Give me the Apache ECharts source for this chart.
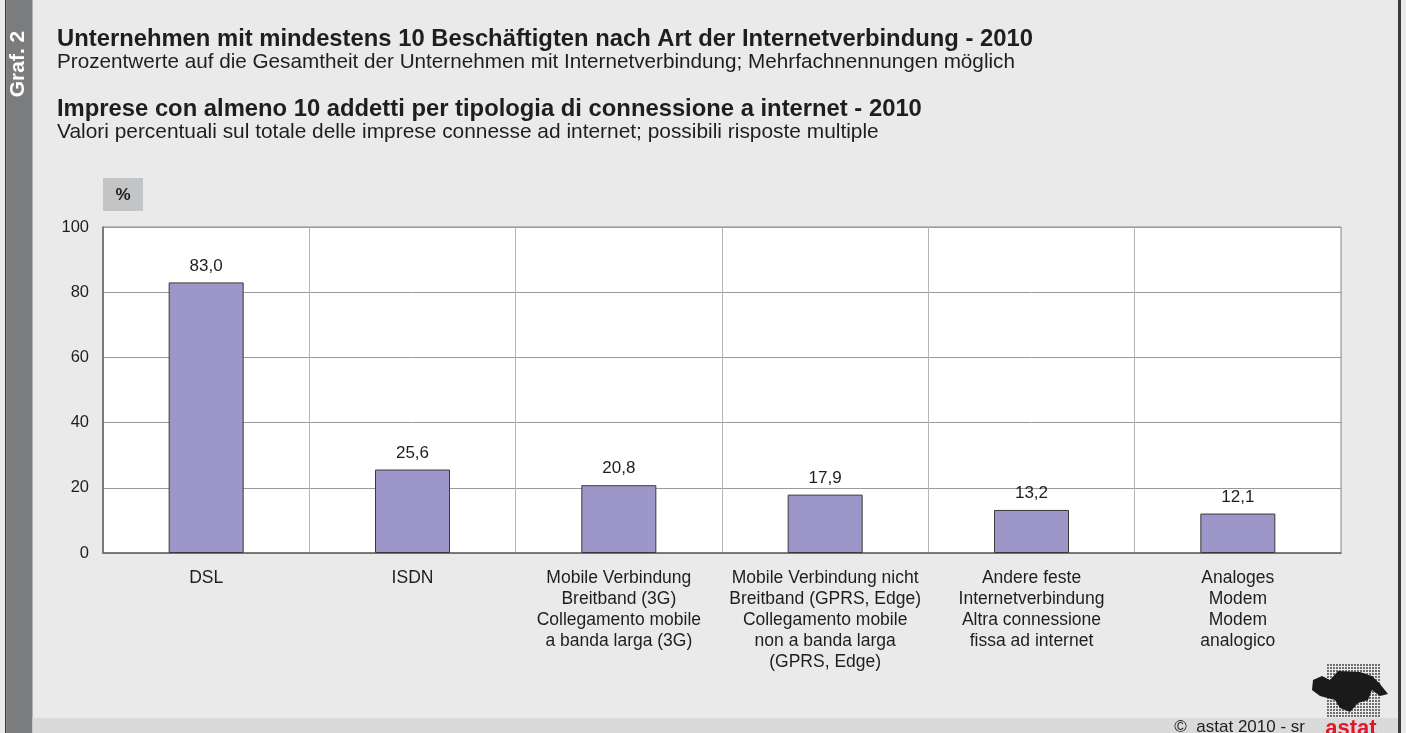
<!DOCTYPE html>
<html>
<head>
<meta charset="utf-8">
<script src="https://cdn.jsdelivr.net/npm/echarts@6/dist/echarts.min.js"></script>
<style>
  html, body { margin: 0; padding: 0; background: #e9eae9; }
  #chart { width: 1406px; height: 733px; }
</style>
</head>
<body>
<div id="chart"></div>
<script>
  var categories = [
    'DSL',
    'ISDN',
    'Mobile Verbindung\nBreitband (3G)\nCollegamento mobile\na banda larga (3G)',
    'Mobile Verbindung nicht\nBreitband (GPRS, Edge)\nCollegamento mobile\nnon a banda larga\n(GPRS, Edge)',
    'Andere feste\nInternetverbindung\nAltra connessione\nfissa ad internet',
    'Analoges\nModem\nModem\nanalogico'
  ]
  var values = [83.0, 25.6, 20.8, 17.9, 13.2, 12.1]
  var yTicks = [0, 20, 40, 60, 80, 100]

  var titleDe = 'Unternehmen mit mindestens 10 Beschäftigten nach Art der Internetverbindung - 2010'
  var subDe = 'Prozentwerte auf die Gesamtheit der Unternehmen mit Internetverbindung; Mehrfachnennungen möglich'
  var titleIt = 'Imprese con almeno 10 addetti per tipologia di connessione a internet - 2010'
  var subIt = 'Valori percentuali sul totale delle imprese connesse ad internet; possibili risposte multiple'

  var font = 'Arial, Helvetica, sans-serif'
  var ink = '#1e1e1e'
  var chart = echarts.init(document.getElementById('chart'))

  // kleine Hilfsfunktion für Texte
  function txt (x, y, s, f, opts) {
    var o = { type: 'text', x: x, y: y, style: { text: s, fill: ink, font: f, textAlign: 'left', textVerticalAlign: 'middle' } }
    if (opts) Object.assign(o.style, opts)
    return o
  }

  // Punktraster vom Logo
  var logoDots = []
  for (var gx = 1328; gx <= 1380; gx += 3) {
    for (var gy = 665; gy <= 716; gy += 3) {
      logoDots.push({ type: 'circle', shape: { cx: gx, cy: gy, r: 0.9 }, style: { fill: '#333333' } })
    }
  }

  var option = {
    backgroundColor: '#e9eae9',
    textStyle: { fontFamily: font },
    grid: {
      left: 103, right: 65, top: 227, bottom: 180,
      show: true, backgroundColor: '#ffffff', borderColor: '#8a8a8a', borderWidth: 1
    },
    xAxis: {
      type: 'category',
      data: categories,
      axisLine: { lineStyle: { color: '#666666', width: 1.5 } },
      axisTick: { show: false },
      splitLine: { show: true, lineStyle: { color: '#b5b5b5', width: 1 } },
      axisLabel: {
        interval: 0, margin: 15, color: ink, fontSize: 17.5, lineHeight: 21,
        fontFamily: font
      }
    },
    yAxis: {
      type: 'value',
      min: 0, max: 100, interval: 20,
      axisLine: { show: true, lineStyle: { color: '#666666', width: 1.5 } },
      axisTick: { show: false },
      splitLine: { lineStyle: { color: '#9a9a9a', width: 1 } },
      axisLabel: {
        margin: 14, color: ink, fontSize: 16.5, fontFamily: font,
        formatter: function (v) { return yTicks.indexOf(v) >= 0 ? String(v) : '' }
      }
    },
    series: [{
      type: 'bar',
      data: values,
      barWidth: 75,
      itemStyle: { color: '#9d97c9', borderColor: '#3a3a3a', borderWidth: 1 },
      label: {
        show: true, position: 'top', distance: 8, color: ink, fontSize: 17,
        fontFamily: font,
        formatter: function (p) { return p.value.toFixed(1).replace('.', ',') }
      }
    }],
    graphic: [
      // linker Streifen
      { type: 'rect', shape: { x: 5, y: 0, width: 1.5, height: 733 }, style: { fill: '#3c3c3c' } },
      { type: 'rect', shape: { x: 6.5, y: 0, width: 26, height: 733 }, style: { fill: '#7b7c7e' } },
      txt(18, 64, 'Graf. 2', 'bold 21px ' + font, { fill: '#ffffff', textAlign: 'center' }),
      // rechter Rand
      { type: 'rect', shape: { x: 1398, y: 0, width: 3, height: 733 }, style: { fill: '#3c3c3c' } },
      // unteres Band
      { type: 'rect', shape: { x: 32.5, y: 718, width: 1365.5, height: 15 }, style: { fill: '#d9dad9' } },
      txt(1305, 727, '©  astat 2010 - sr', '17px ' + font, { textAlign: 'right' }),
      txt(1351, 729, 'astat', 'bold 22px ' + font, { fill: '#e0162b', textAlign: 'center' }),
      // Titel
      txt(57, 39, titleDe, 'bold 23.8px ' + font),
      txt(57, 62, subDe, '20.7px ' + font),
      txt(57, 109, titleIt, 'bold 23.8px ' + font),
      txt(57, 132, subIt, '20.9px ' + font),
      // % Kasten
      { type: 'rect', shape: { x: 103, y: 178, width: 40, height: 33 }, style: { fill: '#c3c4c6' } },
      txt(123, 195, '%', 'bold 17px ' + font, { textAlign: 'center' })
    ].concat(logoDots).concat([
      // Logo (vereinfacht)
      {
        type: 'polygon',
        shape: { points: [[1313, 680], [1322, 676], [1330, 680], [1338, 671], [1360, 672], [1372, 676], [1380, 684], [1388, 694], [1380, 696], [1372, 690], [1368, 700], [1358, 703], [1350, 712], [1340, 708], [1335, 700], [1320, 696], [1312, 690]] },
        style: { fill: '#1a1a1a' }
      }
    ])
  }
  // Graf. 2 senkrecht
  option.graphic[2].rotation = Math.PI / 2

  chart.setOption(option)
</script>
</body>
</html>
